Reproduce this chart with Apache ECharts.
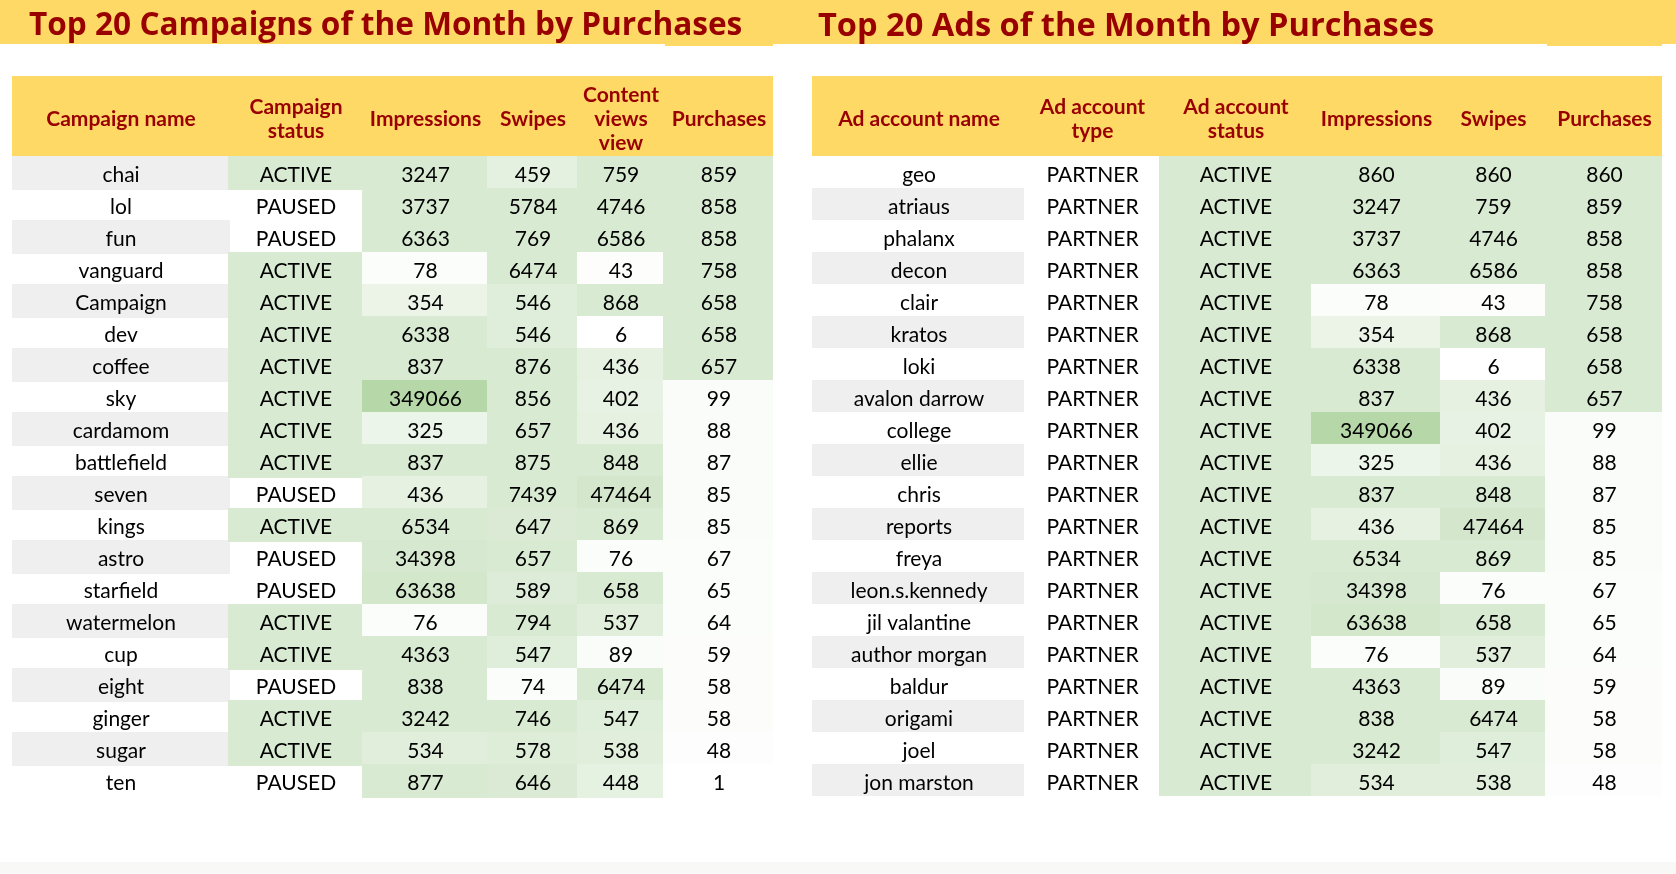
<!DOCTYPE html>
<html><head><meta charset="utf-8">
<style>html,body{margin:0;padding:0;background:#fff}#c{width:1676px;height:874px}</style>
<script src="https://cdn.jsdelivr.net/npm/echarts@6/dist/echarts.min.js"></script>
</head><body><div id="c"></div>
<script>
const titleLeft = 'Top 20 Campaigns of the Month by Purchases';
const titleRight = 'Top 20 Ads of the Month by Purchases';

const headersLeft = ['Campaign name','Campaign\nstatus','Impressions','Swipes','Content\nviews\nview','Purchases'];
const campaignNames = ['chai','lol','fun','vanguard','Campaign','dev','coffee','sky','cardamom','battlefield','seven','kings','astro','starfield','watermelon','cup','eight','ginger','sugar','ten'];
const campaignStatus = ['ACTIVE','PAUSED','PAUSED','ACTIVE','ACTIVE','ACTIVE','ACTIVE','ACTIVE','ACTIVE','ACTIVE','PAUSED','ACTIVE','PAUSED','PAUSED','ACTIVE','ACTIVE','PAUSED','ACTIVE','ACTIVE','PAUSED'];
const campaignImpressions = [3247,3737,6363,78,354,6338,837,349066,325,837,436,6534,34398,63638,76,4363,838,3242,534,877];
const campaignSwipes = [459,5784,769,6474,546,546,876,856,657,875,7439,647,657,589,794,547,74,746,578,646];
const campaignViews = [759,4746,6586,43,868,6,436,402,436,848,47464,869,76,658,537,89,6474,547,538,448];
const campaignPurchases = [859,858,858,758,658,658,657,99,88,87,85,85,67,65,64,59,58,58,48,1];

const headersRight = ['Ad account name','Ad account\ntype','Ad account\nstatus','Impressions','Swipes','Purchases'];
const adNames = ['geo','atriaus','phalanx','decon','clair','kratos','loki','avalon darrow','college','ellie','chris','reports','freya','leon.s.kennedy','jil valantine','author morgan','baldur','origami','joel','jon marston'];
const adTypes = adNames.map(() => 'PARTNER');
const adStatus = adNames.map(() => 'ACTIVE');
const adImpressions = [860,3247,3737,6363,78,354,6338,837,349066,325,837,436,6534,34398,63638,76,4363,838,3242,534];
const adSwipes = [860,759,4746,6586,43,868,6,436,402,436,848,47464,869,76,658,537,89,6474,547,538];
const adPurchases = [860,859,858,858,758,658,658,657,99,88,87,85,85,67,65,64,59,58,58,48];

const FONT = 'Lato';
const TITLE_FONT = '"Open Sans"';
const C = {band:'#ffd966', title:'#990000', head:'#990000', green:'#d9ead3', dark:'#b6d7a8', grey:'#efefef', foot:'#f8f8f6', text:'#000'};
const colsLeft = [216,134,125,90,86,110];
const colsRight = [212,135,152,129,105,117];
const HEAD_ROWS = 2.5, ROWS = 20;

function mix(a,b,t){
  const p=s=>[1,3,5].map(i=>parseInt(s.substr(i,2),16));
  const A=p(a),B=p(b);
  return 'rgb('+A.map((v,i)=>Math.round(v+(B[i]-v)*t)).join(',')+')';
}
const MID = 657, MAX = 349066;
function heat(v){
  if (v <= 1) return null;
  if (v < MID) return mix('#ffffff',C.green,Math.max(0,v/MID));
  return mix(C.green,C.dark,(v-MID)/(MAX-MID));
}
function table(columns){
  const cells=[];
  columns.forEach((col,c)=>col.values.forEach((v,r)=>{
    cells.push({c,r,text:String(v),fill:col.fill(v,r),bx:col.bx||0,by:col.by?col.by(r):0});
  }));
  return cells;
}
const statusFill = s => (s==='PAUSED'||s==='PARTNER') ? null : C.green;

const leftCells = table([
  {values:campaignNames, fill:(v,r)=>r%2===0?C.grey:null, bx:2, by:()=>2},
  {values:campaignStatus, fill:statusFill, by:()=>2},
  {values:campaignImpressions, fill:heat, by:r=>r===19?2:0},
  {values:campaignSwipes, fill:heat, by:r=>r===19?2:0},
  {values:campaignViews, fill:heat, by:r=>r===19?2:0},
  {values:campaignPurchases, fill:heat}
]);
const rightCells = table([
  {values:adNames, fill:(v,r)=>r%2===1?C.grey:null},
  {values:adTypes, fill:statusFill},
  {values:adStatus, fill:statusFill},
  {values:adImpressions, fill:heat},
  {values:adSwipes, fill:heat},
  {values:adPurchases, fill:heat}
]);
function edges(cols){const e=[0];cols.forEach(w=>e.push(e[e.length-1]+w));return e;}

function bodySeries(cells,cols,idx){
  const E=edges(cols);
  return {
    type:'custom',xAxisIndex:idx,yAxisIndex:idx,silent:true,
    data:cells.map(d=>[d.c,d.r,d.text]),
    renderItem:(p,api)=>{
      const d=cells[p.dataIndex];
      const a=api.coord([E[d.c],d.r]), b=api.coord([E[d.c+1],d.r+1]);
      const kids=[];
      if(d.fill) kids.push({type:'rect',shape:{x:a[0],y:a[1],width:b[0]-a[0]+d.bx,height:b[1]-a[1]+d.by},style:{fill:d.fill}});
      kids.push({type:'text',z2:10,style:{x:(a[0]+b[0])/2+1,y:(a[1]+b[1])/2+3,text:d.text,fill:C.text,align:'center',verticalAlign:'middle',font:'400 21px '+FONT}});
      return {type:'group',children:kids};
    }
  };
}
function headSeries(headers,cols,idx){
  const E=edges(cols);
  return {
    type:'custom',xAxisIndex:idx,yAxisIndex:idx,silent:true,
    data:headers.map((h,i)=>[i,h]),
    renderItem:(p,api)=>{
      const i=p.dataIndex;
      const a=api.coord([E[i],-HEAD_ROWS]), b=api.coord([E[i+1],0]);
      return {type:'group',children:[
        {type:'rect',shape:{x:a[0],y:a[1],width:b[0]-a[0],height:b[1]-a[1]},style:{fill:C.band}},
        {type:'text',z2:10,style:{x:(a[0]+b[0])/2+1,y:(a[1]+b[1])/2+3,text:headers[i],fill:C.head,align:'center',verticalAlign:'middle',lineHeight:24,font:'700 21px '+FONT}}
      ]};
    }
  };
}
const total=c=>c.reduce((s,v)=>s+v,0);
const chart=echarts.init(document.getElementById('c'),null,{renderer:'canvas'});
const ax={type:'value',show:false,min:0};
const ay={type:'value',show:false,inverse:true,min:-HEAD_ROWS,max:ROWS};
chart.setOption({
  animation:false,backgroundColor:'#fff',
  graphic:[
    {type:'rect',z:-1,shape:{x:0,y:0,width:1676,height:44},style:{fill:C.band}},
    {type:'rect',z:-1,shape:{x:665,y:44,width:108,height:2},style:{fill:C.band}},
    {type:'rect',z:-1,shape:{x:1547,y:44,width:115,height:2},style:{fill:C.band}},
    {type:'rect',z:-1,shape:{x:0,y:862,width:1676,height:12},style:{fill:C.foot}}
  ],
  title:[
    {text:titleLeft,left:29,top:10,padding:0,textStyle:{color:C.title,fontFamily:TITLE_FONT,fontWeight:700,fontSize:31.6}},
    {text:titleRight,left:818,top:10,padding:0,textStyle:{color:C.title,fontFamily:TITLE_FONT,fontWeight:700,fontSize:32.6}}
  ],
  grid:[
    {left:12,top:76,width:total(colsLeft),height:720},
    {left:812,top:76,width:total(colsRight),height:720}
  ],
  xAxis:[{...ax,max:total(colsLeft),gridIndex:0},{...ax,max:total(colsRight),gridIndex:1}],
  yAxis:[{...ay,gridIndex:0},{...ay,gridIndex:1}],
  series:[
    headSeries(headersLeft,colsLeft,0),
    bodySeries(leftCells,colsLeft,0),
    headSeries(headersRight,colsRight,1),
    bodySeries(rightCells,colsRight,1)
  ]
});
</script></body></html>
